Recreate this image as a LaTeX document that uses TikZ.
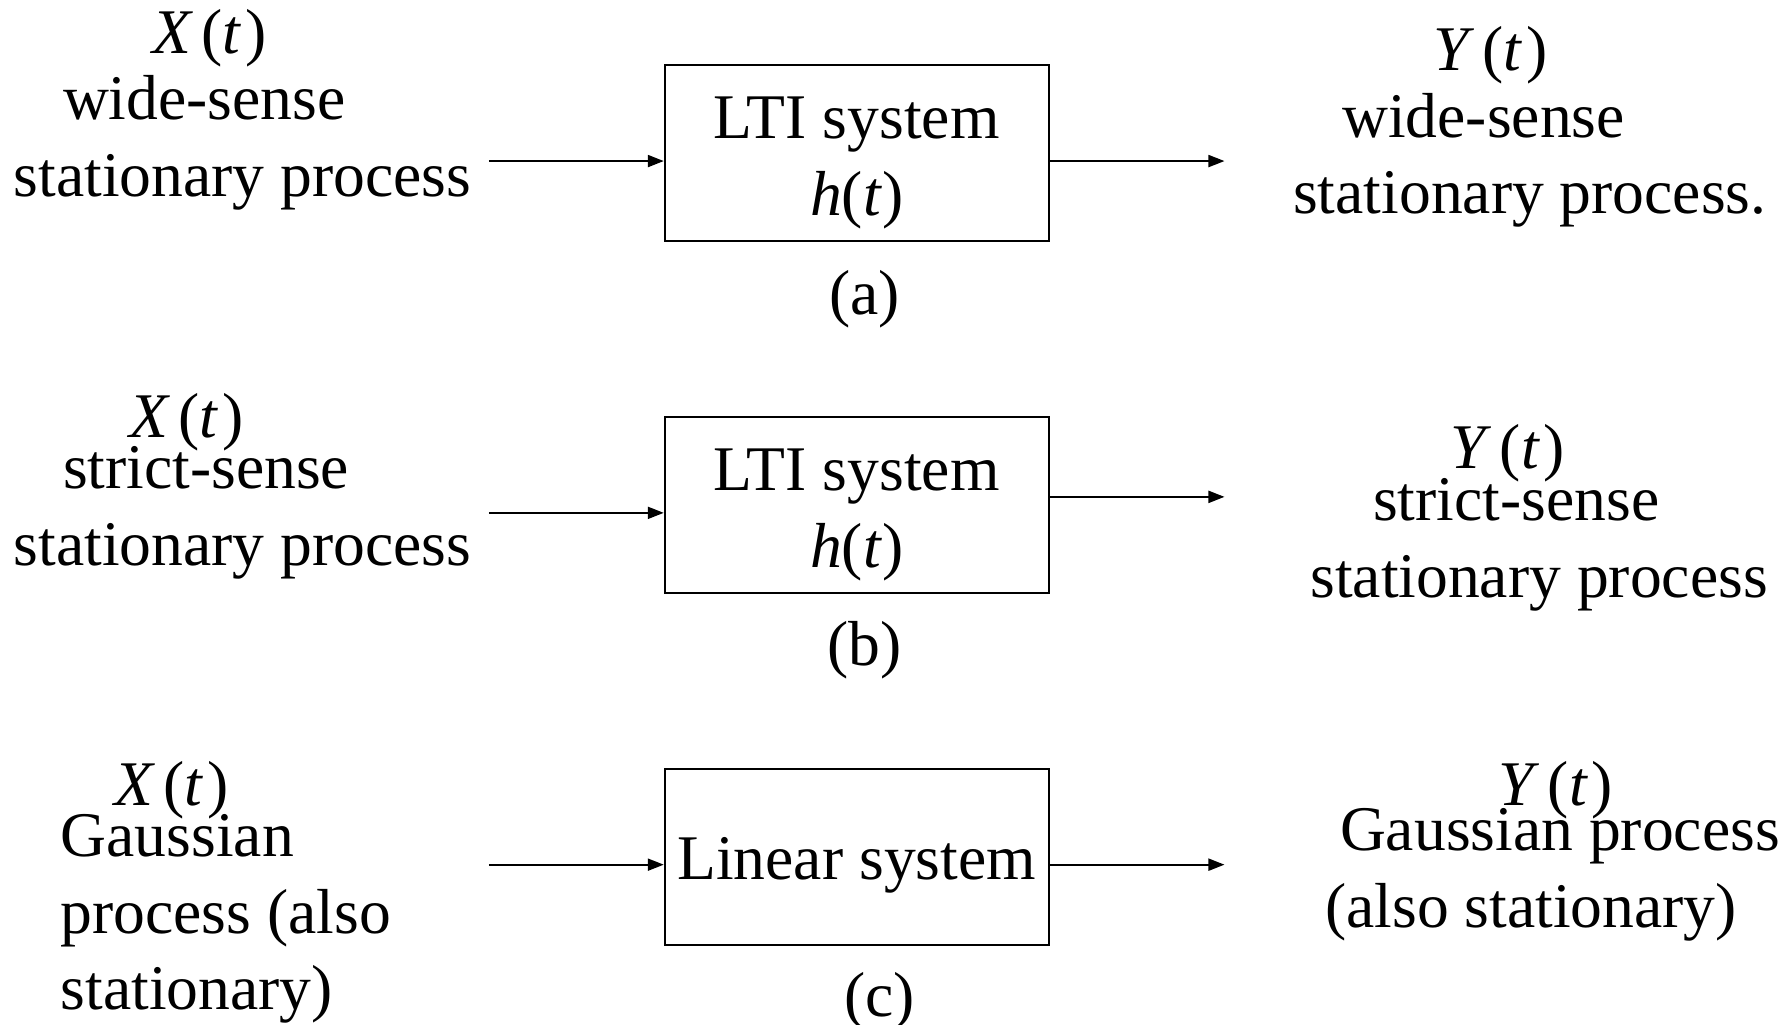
\documentclass[tikz,border=0pt]{standalone}
\usepackage{fontspec}
\setmainfont{Liberation Serif}
\usetikzlibrary{arrows.meta}
\begin{document}
\begin{tikzpicture}[x=1.1422pt,y=-1.1422pt,
  txt/.style={anchor=base west,inner sep=0pt,font=\fontsize{63.6}{76}\selectfont},
  ctxt/.style={anchor=base,inner sep=0pt,font=\fontsize{63.6}{76}\selectfont},
  sysbox/.style={draw,line width=2pt,minimum width=336*1.1422pt,minimum height=154*1.1422pt,inner sep=0pt},
  sig/.style={line width=2pt,-{Triangle[length=16pt,width=12pt]}}]
\useasboundingbox (0,0) rectangle (1568,897);
\newcommand{\sigX}{\textit{X}\kern8pt(\textit{t}\kern4pt)}
\newcommand{\sigY}{\textit{Y}\kern8pt(\textit{t}\kern4pt)}
% boxes
\node[sysbox] (ba) at (750,134) {};
\node[sysbox] (bb) at (750,442) {};
\node[sysbox] (bc) at (750,750.5) {};
% box texts
\node[ctxt] (ta1) at (750,121) {LTI system};
\node[ctxt] (ta2) at (750,189) {\textit{h}(\textit{t})};
\node[ctxt] (la) at (757,275) {(a)};
\node[ctxt] (tb1) at (750,429) {LTI system};
\node[ctxt] (tb2) at (750,497) {\textit{h}(\textit{t})};
\node[ctxt] (lb) at (757,583) {(b)};
\node[ctxt] (tc1) at (750,770) {Linear system};
\node[ctxt] (lc) at (770,890) {(c)};
% left texts (a)
\node[txt] (xa) at (133,47) {\sigX};
\node[txt] (xa1) at (55,105) {wide-sense};
\node[txt] (xa2) at (12,172) {stationary process};
% right texts (a)
\node[txt] (ya) at (1255,62) {\sigY};
\node[txt] (ya1) at (1175,120) {wide-sense};
\node[txt] (ya2) at (1132,187) {stationary process.};
% left texts (b)
\node[txt] (xb) at (113,383) {\sigX};
\node[txt] (xb1) at (55,428) {strict-sense};
\node[txt] (xb2) at (12,495) {stationary process};
% right texts (b)
\node[txt] (yb) at (1270,410) {\sigY};
\node[txt] (yb1) at (1202,456) {strict-sense};
\node[txt] (yb2) at (1147,523) {stationary process};
% left texts (c)
\node[txt] (xc) at (100,705) {\sigX};
\node[txt] (xc1) at (53,750) {Gaussian};
\node[txt] (xc2) at (53,817) {process (also};
\node[txt] (xc3) at (53,884) {stationary)};
% right texts (c)
\node[txt] (yc) at (1312,705) {\sigY};
\node[txt] (yc1) at (1173,745) {Gaussian process};
\node[txt] (yc2) at (1160,812) {(also stationary)};
% connectors
\coordinate (ina) at (428,141);
\coordinate (outa) at (1072,141);
\coordinate (inb) at (428,449);
\coordinate (outb) at (1072,435);
\coordinate (inc) at (428,757);
\coordinate (outc) at (1072,757);
\draw[sig] (ina) -- (ina -| ba.west);
\draw[sig] (outa -| ba.east) -- (outa);
\draw[sig] (inb) -- (inb -| bb.west);
\draw[sig] (outb -| bb.east) -- (outb);
\draw[sig] (inc) -- (inc -| bc.west);
\draw[sig] (outc -| bc.east) -- (outc);
\end{tikzpicture}
\end{document}
